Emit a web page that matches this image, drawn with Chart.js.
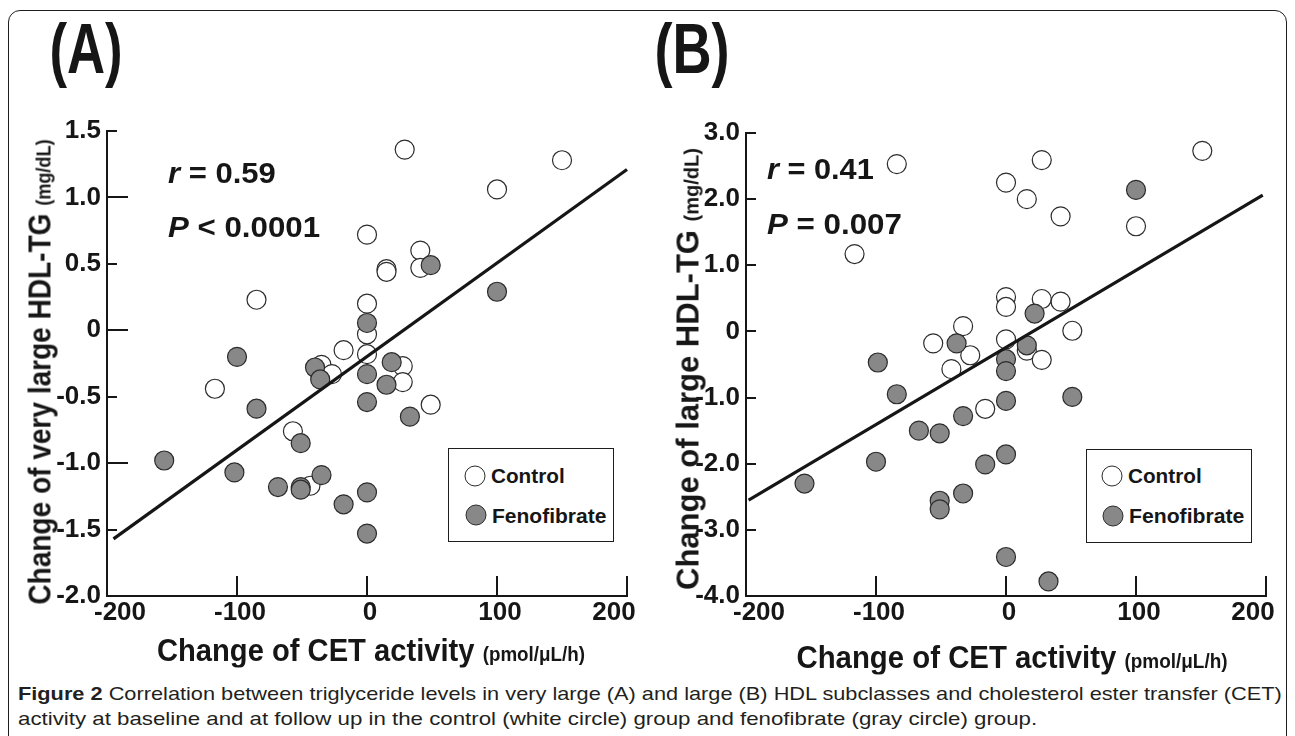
<!DOCTYPE html>
<html>
<head>
<meta charset="utf-8">
<script src="https://cdn.jsdelivr.net/npm/chart.js@4.4.0/dist/chart.umd.min.js"></script>
<style>
  html, body { margin: 0; padding: 0; background: #fff; }
  body { width: 1295px; height: 736px; position: relative; overflow: hidden;
         font-family: "Liberation Sans", Arial, sans-serif; color: #161616; }
  .frame { position: absolute; left: 8px; top: 10px; width: 1277px; height: 740px;
           border: 1.5px solid #1e1e1e; border-radius: 12px; }
  canvas { position: absolute; top: 0; }
  #chartA { left: 0; }
  #chartB { left: 650px; }
  .lbl { position: absolute; white-space: nowrap; font-weight: bold; line-height: 1; z-index: 2; }
  .left { transform-origin: 0 50%; }
  .mid { transform-origin: 50% 50%; }
  .panel-tag { font-size: 70px; }
  .stat { font-size: 29px; }
  .axis-title { font-size: 31px; }
  .axis-title small { font-size: 20px; }
  .legend-box { position: absolute; border: 1.5px solid #1e1e1e; box-sizing: border-box; z-index: 2; background: #fff; }
  .legend-dot { position: absolute; width: 21px; height: 21px; border-radius: 50%; box-sizing: border-box;
                border: 1.2px solid #2b2b2b; transform: translate(-50%, -50%); z-index: 3; }
  .legend-dot.control { background: #fff; }
  .legend-dot.feno { background: #888; }
  .legend-text { font-size: 21px; }
  .caption { position: absolute; left: 18px; font-size: 19px; line-height: 1; white-space: nowrap;
             transform-origin: 0 50%; color: #231f20; }
  .caption b { font-weight: bold; }
</style>
</head>
<body>
<div class="frame"></div>

<canvas id="chartA" width="650" height="640"></canvas>
<canvas id="chartB" width="645" height="640"></canvas>

<div class="lbl mid panel-tag" style="left:86px; top:49px;" data-base="translate(-50%,-50%)" data-w="73">(A)</div>
<div class="lbl mid panel-tag" style="left:692px; top:49px;" data-base="translate(-50%,-50%)" data-w="75">(B)</div>

<div class="lbl left stat" style="left:168px; top:173px;" data-base="translateY(-50%)" data-w="108"><i>r</i> = 0.59</div>
<div class="lbl left stat" style="left:168px; top:227px;" data-base="translateY(-50%)" data-w="152"><i>P</i> &lt; 0.0001</div>
<div class="lbl left stat" style="left:767px; top:169px;" data-base="translateY(-50%)" data-w="107"><i>r</i> = 0.41</div>
<div class="lbl left stat" style="left:767px; top:224px;" data-base="translateY(-50%)" data-w="135"><i>P</i> = 0.007</div>

<div class="lbl mid axis-title" style="left:371px; top:650px;" data-base="translate(-50%,-50%)" data-w="428">Change of CET activity <small>(pmol/μL/h)</small></div>
<div class="lbl mid axis-title" style="left:1012px; top:657px;" data-base="translate(-50%,-50%)" data-w="431">Change of CET activity <small>(pmol/μL/h)</small></div>
<div class="lbl mid axis-title" style="left:40px; top:372px;" data-base="translate(-50%,-50%) rotate(-90deg)" data-w="465">Change of very large HDL-TG <small>(mg/dL)</small></div>
<div class="lbl mid axis-title" style="left:688px; top:369px;" data-base="translate(-50%,-50%) rotate(-90deg)" data-w="442">Change of large HDL-TG <small>(mg/dL)</small></div>

<div class="legend-box" style="left:448px; top:448px; width:166px; height:94px;"></div>
<div class="legend-dot control" style="left:475px; top:476px;"></div>
<div class="legend-dot feno" style="left:476px; top:515px;"></div>
<div class="lbl left legend-text" style="left:491px; top:475px;" data-base="translateY(-50%)" data-w="74">Control</div>
<div class="lbl left legend-text" style="left:492px; top:515px;" data-base="translateY(-50%)" data-w="114">Fenofibrate</div>

<div class="legend-box" style="left:1086px; top:449px; width:166px; height:94px;"></div>
<div class="legend-dot control" style="left:1112px; top:476px;"></div>
<div class="legend-dot feno" style="left:1113px; top:516px;"></div>
<div class="lbl left legend-text" style="left:1128px; top:475px;" data-base="translateY(-50%)" data-w="74">Control</div>
<div class="lbl left legend-text" style="left:1129px; top:515px;" data-base="translateY(-50%)" data-w="115">Fenofibrate</div>

<div class="caption" style="top:684px;" data-cap="1264"><b>Figure 2</b> Correlation between triglyceride levels in very large (A) and large (B) HDL subclasses and cholesterol ester transfer (CET)</div>
<div class="caption" style="top:709px;" data-cap="1019">activity at baseline and at follow up in the control (white circle) group and fenofibrate (gray circle) group.</div>

<script>
// tick labels
const xTickLabels = ["-200", "-100", "0", "100", "200"];
const yTickLabelsA = ["-2.0", "-1.5", "-1.0", "-0.5", "0", "0.5", "1.0", "1.5"];
const yTickLabelsB = ["-4.0", "-3.0", "-2.0", "-1.0", "0", "1.0", "2.0", "3.0"];

// (A) very large HDL-TG
const controlAx = [-85, 0, 15, 15, 0, 0, -18, 0, -35, -27, 29, 150, 100, 41, 41, 27.5, 27.5, 49, -117, -57, -43.5];
const controlAy = [0.23, 0.72, 0.46, 0.44, 0.2, -0.03, -0.15, -0.18, -0.26, -0.33, 1.36, 1.28, 1.06, 0.6, 0.47, -0.27, -0.39, -0.56, -0.44, -0.76, -1.17];
const fenoAx = [0, 19, -100, -40, -36, 49, 100, 15, 33, 0, 0, -85, -51, -156, -102, -35, -68.5, -51, -51, 0, -18, 0];
const fenoAy = [0.055, -0.24, -0.2, -0.28, -0.37, 0.49, 0.29, -0.41, -0.65, -0.33, -0.54, -0.59, -0.85, -0.98, -1.07, -1.09, -1.18, -1.18, -1.2, -1.22, -1.31, -1.53];
const fitAx = [-195, 200];
const fitAy = [-1.57, 1.21];

// (B) large HDL-TG
const controlBx = [-84, -116.5, 0, 0, 0, -33, -56, -27.5, 0, -42, 27.5, 16, 42, 151, 100, 27.5, 42, 51, 16, 27.5, -16];
const controlBy = [2.53, 1.17, 2.25, 0.52, 0.37, 0.08, -0.18, -0.36, -0.12, -0.57, 2.59, 2.0, 1.74, 2.73, 1.59, 0.49, 0.45, 0.01, -0.29, -0.43, -1.17];
const fenoBx = [-38, 0, -98.6, 0, 100, 22, 16, 0, 51, 0, 0, 32.7, -84, -67, -51, -33, -100, -155, -16, -33, -51, -51];
const fenoBy = [-0.18, -0.42, -0.47, -0.6, 2.14, 0.27, -0.21, -1.05, -0.99, -1.86, -3.41, -3.78, -0.95, -1.5, -1.54, -1.28, -1.97, -2.3, -2.01, -2.45, -2.56, -2.69];
const fitBx = [-198, 197.5];
const fitBy = [-2.55, 2.06];

const FigureApp = (() => {
  const ink = "#161616";

  // the figure's tick numbers are tall and narrow; use the narrow face when it exists
  const pickTickFont = () => {
    const ctx = document.createElement("canvas").getContext("2d");
    ctx.font = "bold 30px monospace";
    const fallback = ctx.measureText("-200 1.5").width;
    ctx.font = "bold 30px 'Liberation Sans Narrow', monospace";
    const narrow = ctx.measureText("-200 1.5").width;
    if (narrow !== fallback) {
      return { family: "'Liberation Sans Narrow', 'Liberation Sans', sans-serif", size: 31, weight: "bold" };
    }
    return { family: "'Liberation Sans', Arial, sans-serif", size: 26, weight: "bold" };
  };

  const toPoints = (xs, ys) => xs.map((x, i) => ({ x, y: ys[i] }));

  // ticks in the original point into the plot, with longer marks on whole numbers;
  // the x numbers at both ends are pulled inward a little, as in the figure
  const innerTicks = {
    id: "innerTicks",
    afterDraw(chart, args, opts) {
      const { ctx, chartArea, scales } = chart;
      const xs = scales.x;
      ctx.save();
      ctx.strokeStyle = ink;
      ctx.lineWidth = 2;
      ctx.beginPath();
      xs.ticks.forEach((t) => {
        const px = Math.round(xs.getPixelForValue(t.value));
        ctx.moveTo(px, chartArea.bottom);
        ctx.lineTo(px, chartArea.bottom - opts.xLen);
      });
      scales.y.ticks.forEach((t) => {
        const py = Math.round(scales.y.getPixelForValue(t.value));
        const len = Number.isInteger(t.value) ? opts.yMajor : opts.yMinor;
        ctx.moveTo(chartArea.left, py);
        ctx.lineTo(chartArea.left + len, py);
      });
      ctx.stroke();

      ctx.fillStyle = ink;
      ctx.font = `${opts.font.weight} ${opts.font.size}px ${opts.font.family}`;
      ctx.textAlign = "center";
      ctx.textBaseline = "top";
      const last = xs.ticks.length - 1;
      xs.ticks.forEach((t, i) => {
        let shift = opts.midShift;
        if (i === 0) shift = opts.edgeShift;
        if (i === last) shift = -opts.edgeShift;
        ctx.fillText(xTickLabels[i], xs.getPixelForValue(t.value) + shift, chartArea.bottom + opts.labelGap);
      });
      ctx.restore();
    },
  };

  const buildChart = (canvas, cfg, tickFont) => {
    const dot = (fill) => ({
      pointRadius: 9.5,
      pointHoverRadius: 9.5,
      pointBackgroundColor: fill,
      pointBorderColor: "#2b2b2b",
      pointBorderWidth: 1.2,
      showLine: false,
    });

    return new Chart(canvas, {
      type: "scatter",
      data: {
        datasets: [
          { data: toPoints(cfg.fitX, cfg.fitY), showLine: true, borderColor: ink, borderWidth: 3.2, pointRadius: 0, order: 0 },
          { data: toPoints(cfg.fenoX, cfg.fenoY), ...dot("#888888"), order: 1 },
          { data: toPoints(cfg.controlX, cfg.controlY), ...dot("#ffffff"), order: 2 },
        ],
      },
      options: {
        responsive: false,
        animation: false,
        events: [],
        clip: false,
        layout: { padding: cfg.padding },
        plugins: {
          legend: { display: false },
          tooltip: { enabled: false },
          innerTicks: {
            xLen: 20, yMajor: cfg.yMajor, yMinor: cfg.yMinor,
            font: tickFont, labelGap: 4, edgeShift: 13, midShift: 3,
          },
        },
        scales: {
          x: {
            type: "linear",
            min: -200,
            max: 200,
            afterFit: (s) => { s.height = cfg.xHeight; },
            grid: { display: false, drawTicks: false },
            border: { color: ink, width: 2 },
            ticks: { stepSize: 100, autoSkip: false, display: false },
          },
          y: {
            type: "linear",
            min: cfg.yMin,
            max: cfg.yMax,
            afterFit: (s) => { s.width = cfg.yWidth; },
            grid: { display: false, drawTicks: false },
            border: { color: ink, width: 2 },
            ticks: {
              stepSize: cfg.yStep,
              autoSkip: false,
              padding: 6,
              color: ink,
              font: tickFont,
              callback: (v, i) => cfg.yLabels[i],
            },
          },
        },
      },
      plugins: [innerTicks],
    });
  };

  const fitLabels = () => {
    document.querySelectorAll("[data-w]").forEach((el) => {
      const k = Number(el.dataset.w) / el.offsetWidth;
      el.style.transform = `${el.dataset.base} scaleX(${k})`;
    });
    document.querySelectorAll("[data-cap]").forEach((el) => {
      const k = Number(el.dataset.cap) / el.offsetWidth;
      el.style.transform = `scaleX(${k})`;
    });
  };

  const initialize = () => {
    const tickFont = pickTickFont();
    buildChart(document.getElementById("chartA"), {
      controlX: controlAx, controlY: controlAy,
      fenoX: fenoAx, fenoY: fenoAy,
      fitX: fitAx, fitY: fitAy,
      yMin: -2, yMax: 1.5, yStep: 0.5, yLabels: yTickLabelsA,
      yMajor: 21, yMinor: 10,
      yWidth: 107, xHeight: 44,
      padding: { top: 131, right: 23, left: 0, bottom: 0 },
    }, tickFont);
    buildChart(document.getElementById("chartB"), {
      controlX: controlBx, controlY: controlBy,
      fenoX: fenoBx, fenoY: fenoBy,
      fitX: fitBx, fitY: fitBy,
      yMin: -4, yMax: 3, yStep: 1, yLabels: yTickLabelsB,
      yMajor: 10, yMinor: 10,
      yWidth: 96, xHeight: 44,
      padding: { top: 133, right: 29, left: 0, bottom: 0 },
    }, tickFont);
    fitLabels();
  };

  return { initialize };
})();

FigureApp.initialize();
</script>
</body>
</html>
